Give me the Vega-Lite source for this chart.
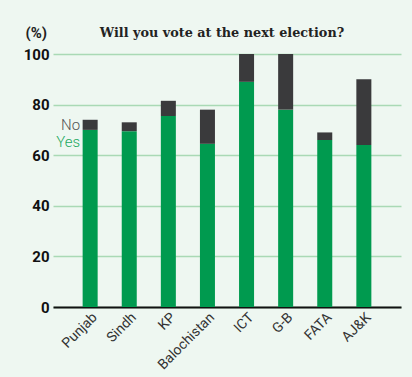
{
  "$schema": "https://vega.github.io/schema/vega-lite/v6.json",
  "width": 348,
  "height": 253,
  "autosize": {"type": "none"},
  "padding": {"left": 53, "top": 54, "right": 11, "bottom": 70},
  "background": "#eef7f1",
  "title": {
    "text": "Will you vote at the next election?",
    "font": "DejaVu Serif",
    "fontSize": 12.8,
    "fontWeight": "bold",
    "color": "#222222",
    "anchor": "middle",
    "offset": -15,
    "dx": -5
  },
  "data": {
    "values": [
      {"region": "Punjab", "answer": "Yes", "value": 70},
      {"region": "Punjab", "answer": "No", "value": 4},
      {"region": "Sindh", "answer": "Yes", "value": 69.5},
      {"region": "Sindh", "answer": "No", "value": 3.5},
      {"region": "KP", "answer": "Yes", "value": 75.5},
      {"region": "KP", "answer": "No", "value": 6},
      {"region": "Balochistan", "answer": "Yes", "value": 64.5},
      {"region": "Balochistan", "answer": "No", "value": 13.5},
      {"region": "ICT", "answer": "Yes", "value": 89},
      {"region": "ICT", "answer": "No", "value": 11},
      {"region": "G-B", "answer": "Yes", "value": 78},
      {"region": "G-B", "answer": "No", "value": 22},
      {"region": "FATA", "answer": "Yes", "value": 66},
      {"region": "FATA", "answer": "No", "value": 3},
      {"region": "AJ&K", "answer": "Yes", "value": 64},
      {"region": "AJ&K", "answer": "No", "value": 26}
    ]
  },
  "config": {"view": {"stroke": null}},
  "encoding": {
    "x": {
      "field": "region",
      "type": "nominal",
      "sort": null,
      "scale": {"paddingInner": 0.616, "paddingOuter": 0.758},
      "axis": {
        "title": null,
        "labelAngle": -45,
        "labelFont": "Roboto",
        "labelFontSize": 14,
        "labelColor": "#333333",
        "labelPadding": 3,
        "ticks": false,
        "domainColor": "#111111",
        "domainWidth": 2,
        "grid": false
      }
    }
  },
  "layer": [
    {
      "mark": {"type": "bar"},
      "encoding": {
        "y": {
          "field": "value",
          "type": "quantitative",
          "stack": "zero",
          "scale": {"domain": [0, 100]},
          "axis": {
            "title": "(%)",
            "titleAngle": 0,
            "titleX": -28,
            "titleY": -22,
            "titleAlign": "left",
            "titleBaseline": "middle",
            "titleFont": "Roboto",
            "titleFontSize": 15,
            "titleFontWeight": "bold",
            "titleColor": "#222222",
            "values": [0, 20, 40, 60, 80, 100],
            "labelFont": "Roboto",
            "labelFontSize": 15,
            "labelFontWeight": "bold",
            "labelColor": "#111111",
            "labelPadding": 4,
            "ticks": false,
            "domain": false,
            "grid": true,
            "gridColor": "#a9d9b5",
            "gridWidth": 1.5
          }
        },
        "color": {
          "field": "answer",
          "type": "nominal",
          "scale": {"domain": ["Yes", "No"], "range": ["#009a4f", "#3a3a3c"]},
          "legend": null
        },
        "order": {"field": "answer", "sort": "descending"}
      }
    },
    {
      "transform": [
        {"filter": "datum.region === 'Punjab'"},
        {"stack": "value", "groupby": ["region"], "sort": [{"field": "answer", "order": "descending"}], "as": ["v0", "v1"]},
        {"filter": "datum.answer === 'No'"}
      ],
      "mark": {"type": "text", "align": "right", "baseline": "top", "dx": -10, "dy": -2, "fontSize": 15, "font": "Roboto", "fontWeight": 300, "color": "#555555"},
      "encoding": {
        "y": {"field": "v1", "type": "quantitative"},
        "text": {"field": "answer"}
      }
    },
    {
      "transform": [
        {"filter": "datum.region === 'Punjab'"},
        {"stack": "value", "groupby": ["region"], "sort": [{"field": "answer", "order": "descending"}], "as": ["v0", "v1"]},
        {"filter": "datum.answer === 'Yes'"}
      ],
      "mark": {"type": "text", "align": "right", "baseline": "top", "dx": -10, "dy": 5, "fontSize": 15, "font": "Roboto", "fontWeight": 300, "color": "#22a85e"},
      "encoding": {
        "y": {"field": "v1", "type": "quantitative"},
        "text": {"field": "answer"}
      }
    }
  ]
}
